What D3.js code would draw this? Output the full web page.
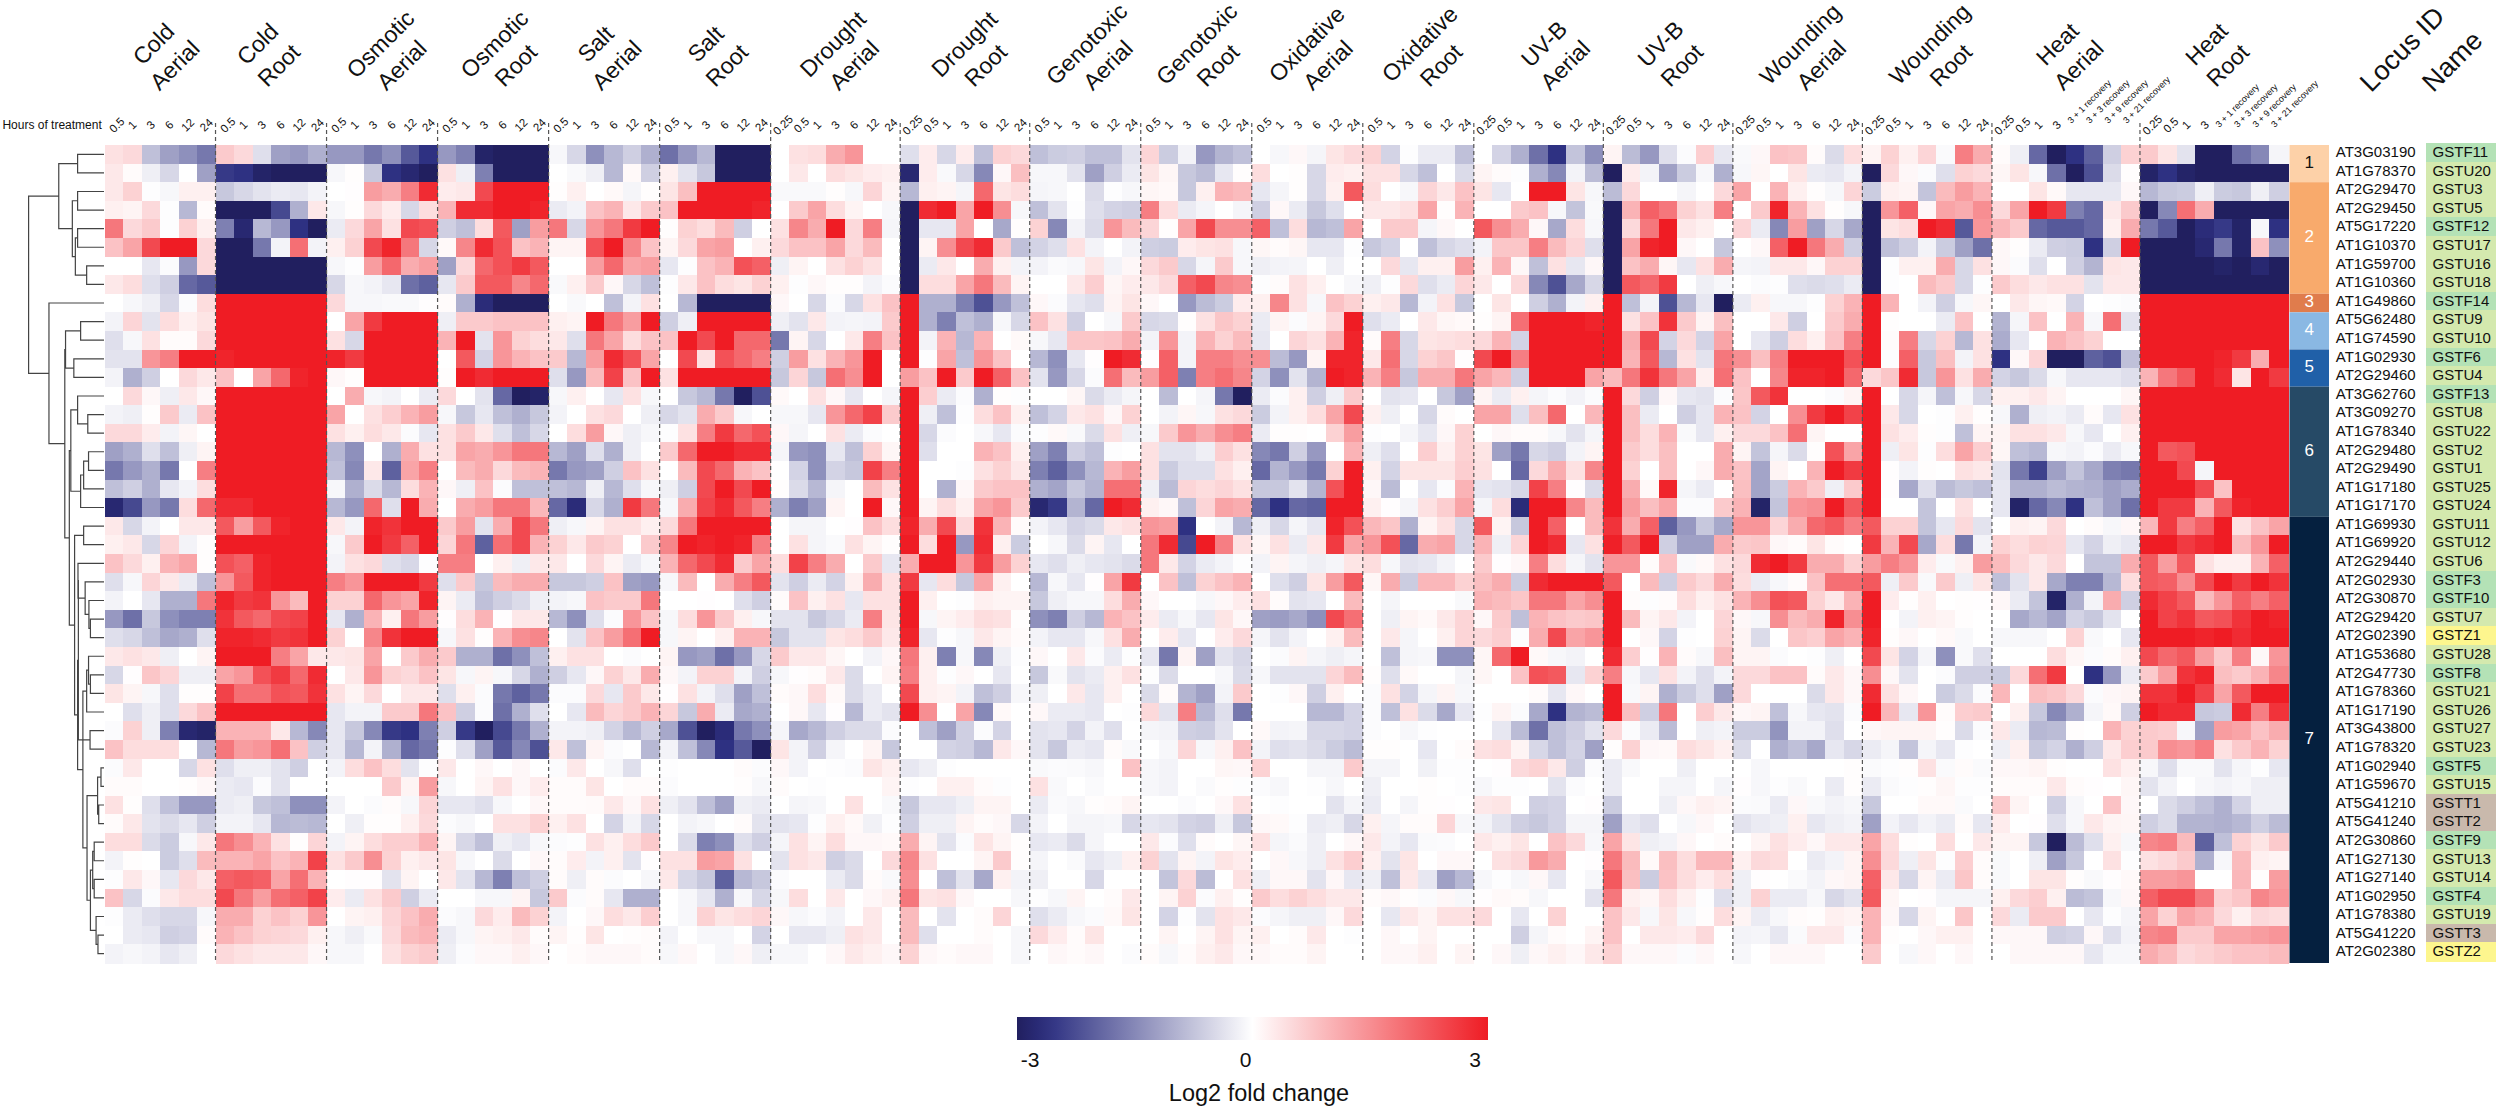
<!DOCTYPE html>
<html>
<head>
<meta charset="utf-8">
<script src="https://cdn.jsdelivr.net/npm/d3@7"></script>
<style>
  body { margin: 0; background: #fff; }
  text { font-family: "Liberation Sans", Arial, sans-serif; fill: #111; }
</style>
</head>
<body>
<svg id="chart" width="2500" height="1111"></svg>
<script>
/*** DATA ***/
const locusIds = ["AT3G03190","AT1G78370","AT2G29470","AT2G29450","AT5G17220","AT1G10370","AT1G59700","AT1G10360","AT1G49860","AT5G62480","AT1G74590","AT1G02930","AT2G29460","AT3G62760","AT3G09270","AT1G78340","AT2G29480","AT2G29490","AT1G17180","AT1G17170","AT1G69930","AT1G69920","AT2G29440","AT2G02930","AT2G30870","AT2G29420","AT2G02390","AT1G53680","AT2G47730","AT1G78360","AT1G17190","AT3G43800","AT1G78320","AT1G02940","AT1G59670","AT5G41210","AT5G41240","AT2G30860","AT1G27130","AT1G27140","AT1G02950","AT1G78380","AT5G41220","AT2G02380"];
const geneNames = ["GSTF11","GSTU20","GSTU3","GSTU5","GSTF12","GSTU17","GSTU16","GSTU18","GSTF14","GSTU9","GSTU10","GSTF6","GSTU4","GSTF13","GSTU8","GSTU22","GSTU2","GSTU1","GSTU25","GSTU24","GSTU11","GSTU12","GSTU6","GSTF3","GSTF10","GSTU7","GSTZ1","GSTU28","GSTF8","GSTU21","GSTU26","GSTU27","GSTU23","GSTF5","GSTU15","GSTT1","GSTT2","GSTF9","GSTU13","GSTU14","GSTF4","GSTU19","GSTT3","GSTZ2"];
const clusterSizes = [2, 6, 1, 2, 2, 7, 24];

const hours6 = ["0.5","1","3","6","12","24"];
const hours7 = ["0.25","0.5","1","3","6","12","24"];
const hoursHeat = ["0.25","0.5","1","3","3 + 1 recovery","3 + 3 recovery","3 + 9 recovery","3 + 21 recovery"];

const coldAerial = [
[.4,.5,-.8,-1.2,-1.4,-1.7],[.3,.05,-.2,-.5,0,-1.2],[.3,.6,-.03,-.1,.2,.2],[.2,.15,.5,-.02,-.9,.05],[1.8,.5,.7,-.02,.6,.2],[.8,1.2,2.4,3,3,.5],[0,0,-.3,-.05,-1.3,.5],[.3,.45,-.4,-.6,-1.9,-2.1],
[0,-.1,-.2,-.5,-.05,.45],[-.15,.55,-.35,.45,.2,.35],[-.4,-.1,.4,.05,.05,.5],[-.35,-.35,1.4,1.7,3,3],[-.15,-1,-.6,0,.5,.3],[0,.5,.1,-.2,.3,.1],[-.15,-.2,.03,.7,-.25,.8],[.5,.5,.25,-.15,.12,0],
[-1.2,-1,-.4,-.8,-.2,.15],[-1.7,-1.3,-1,-1.7,0,1.7],[-.8,-.6,-1,-.3,-.15,.45],[-2.8,-2.3,-1.3,-1.7,.45,2],[.3,-.5,-.15,0,.3,.3],[.2,.3,-.5,.55,-.15,.03],[.8,.5,.2,1,1.2,.03],[-.4,-.1,.55,.3,-.25,-.8],
[-.15,0,-.3,-1,-1,1.8],[-1.3,-1.8,-.7,-1.4,-1.6,-1.6],[-.4,-.5,-.8,-1.1,-1,-.4],[.3,.4,.3,-.2,0,.15],[-.5,.02,.75,.55,-.2,-.2],[.35,.15,-.1,-.4,.03,.03],[0,-.4,-.2,-.4,.5,.8],[-.05,.6,-.2,-1.6,-2.8,-2.9],
[.8,.45,.45,.45,0,-.9],[-.05,.3,0,0,-.5,.4],[.05,.05,0,0,.03,.1],[.4,.03,-.4,-.8,-1.3,-1.3],[.05,.3,-.35,-.45,-.3,-.6],[.45,.45,-.45,-.65,-.1,.3],[-.15,.03,0,-.65,-.4,.9],[-.03,.3,.1,-.3,.5,.3],
[.8,-.5,-.05,.3,.45,.45],[-.03,-.25,-.4,-.5,-.5,-.1],[0,-.25,-.3,-.6,-.55,.05],[-.15,-.1,-.15,-.3,-.2,0]];

const coldRoot = [
[.7,.5,-.4,-1.2,-1.3,-1],[-2.5,-2.6,-2.9,-3,-3,-3],[-.7,-.5,-.35,-.25,-.3,-.15],[-3,-3,-3,-2.3,-1,.3],[-1.6,-2.8,-.9,-1.3,-2.6,-3],[-3,-3,-1.7,-.15,1.9,-.15],[-3,-3,-3,-3,-3,-3],[-3,-3,-3,-3,-3,-3],
[3,3,3,3,3,3],[3,3,3,3,3,3],[3,3,3,3,3,3],[2.9,3,3,3,3,3],[.8,0,1.2,2,2.9,3],[3,3,3,3,3,3],[3,3,3,3,3,3],[3,3,3,3,3,3],
[3,3,3,3,3,3],[3,3,3,3,3,3],[3,3,3,3,3,3],[2.8,2.8,3,3,3,3],[2.2,1.3,2.2,2.9,3,3],[3,3,3,3,3,3],[2.3,2.1,2.9,3,3,3],[1.4,2.2,2.9,3,3,3],
[2.9,2.6,2.7,1.4,.9,3],[2.7,2.2,2,2.4,2.5,3],[2.9,2.9,2.8,2.6,2.7,3],[3,3,3,1.7,1.2,.3],[1.2,1.4,2.3,2.6,2,2.8],[2.5,1.9,1.9,2.3,2.2,2.7],[3,3,3,3,3,3],[1,1,1,.3,-.9,-1.5],
[1.8,1.3,1.4,1.9,.8,-.6],[-.4,-.2,-.2,-.35,-.6,0],[-.25,-.3,-.05,-.35,0,0],[-.25,-.2,-.7,-.8,-1.4,-1.4],[-.15,-.15,-.3,-.9,-.85,-.9],[1.8,1.5,1,.4,.03,.55],[1,1,1.2,.8,1,2.5],[2.1,2.2,2.1,1.2,1.9,1],
[2.4,1.8,1.3,1.9,2.1,2.5],[1.1,1.1,.6,.8,.6,1.4],[1,.8,.6,.55,.5,.2],[.5,.4,.3,.3,.3,.1]];

const osmoticAerial = [
[-1.3,-1.3,-1.7,-1.4,-2.1,-2.6],[-.1,.03,-.7,-2.6,-2.8,-3],[0,.02,1.3,1.1,1.7,2.8],[-.1,.03,.5,.25,-.5,.45],[-.25,.5,1.2,.4,2.4,2.3],[.2,.6,2.4,2.9,1.8,-.5],[-.1,-.02,1.3,2,1.1,1.3],[-.5,-.1,-.15,-.3,-1.8,-2],
[.5,-.1,-.1,-.08,-.08,.02],[0,1.2,2.6,3,3,3],[.4,-.5,3,3,3,3],[2.9,2.6,3,3,3,3],[.1,.03,3,3,3,3],[0,1.1,-.1,-.15,0,-.25],[1.2,0,.4,.65,1,1.3],[.4,.2,.45,.3,-.05,-.3],
[-.9,-1.4,0,-1,1.1,.4],[-.8,-1.5,.3,-2,1.2,1.7],[-.1,-1,-.45,-.9,.45,1],[-.9,-1.3,2,-.4,3,1.1],[.3,-.15,2.9,2.7,3,3],[-.1,.7,3,2.6,2.1,3],[-.15,.4,.5,-.4,-.5,-.02],[1.7,1.4,3,3,3,2.6],
[.6,.6,2,1.4,1.2,2.9],[-.3,-1,1,.2,1.8,1.3],[.6,0,1.6,2.7,3,3],[.3,.35,1.2,0,.7,1.1],[0,.3,1.4,.6,.5,.8],[.4,.15,.5,0,.3,.3],[-.3,-.15,-.15,.7,.7,1.8],[-.3,-.7,-1.5,-2.5,-2.6,-1.6],
[-.3,-.9,-.15,-1,-1.9,-1.7],[-.15,.45,.8,.45,-.35,-.02],[0,0,0,.7,.15,1.3],[-.15,0,-.05,.05,-.1,.55],[0,-.2,.03,.03,.2,.5],[-.15,.15,.45,.65,.65,1],[.4,.7,1.5,.6,.2,.3],[0,.02,.02,-.35,.15,0],
[.25,-.25,.4,.7,-.6,-.25],[0,.15,.2,.55,.8,1.1],[-.1,-.2,-.08,.5,.9,1],[-.1,-.1,0,.4,.6,.7]];

const osmoticRoot = [
[-1.3,-1.6,-2.9,-3,-3,-3],[.4,-.2,-1.6,-3,-3,-3],[.25,.3,2.4,3,3,3],[1,2.8,2.8,3,3,2.9],[-.6,-.8,.45,2.2,-1.2,1.3],[.08,1.6,2.8,2.3,.8,1],[-1.2,.5,2,2.3,2.6,2.2],[-.3,.7,2.2,2.2,1.6,2],
[.05,-1,-2.7,-3,-3,-3],[-.2,.7,.7,.8,.8,.8],[1,3,-.35,1.4,.6,.45],[0,2.2,-.55,1.4,1,.8],[.03,3,2.8,3,3,3],[.5,0,-.35,-1.9,-3,-2.9],[-.1,-.7,-.3,-.8,-1,-.7],[.4,.7,.3,-.4,-.8,-.5],
[.4,1.2,1.1,1.4,1.8,1.8],[0,.9,1.1,.5,.9,1],[.1,-.2,.8,-.05,-.8,-.8],[0,1.1,1.3,1.8,1.8,.95],[.7,1.3,-.35,1.1,2.4,1.8],[.55,1.8,-2,1.9,2.4,1],[1.7,1.7,0,.2,-.2,.3],[-.4,.7,-.7,.9,1.1,1.1],
[.15,-.25,-.8,-.6,-.45,-.2],[.02,.45,1,.02,.3,.3],[-.1,.4,.03,1,1.5,1.6],[.7,-1,-1,-1.8,-1.4,-.8],[.35,-.1,.15,-.1,-.5,-1],[-.4,.2,-.05,-1.7,-2,-1.7],[.8,-.6,-.05,-1.8,-1,-.4],[-.6,-2.5,-3,-2.3,-1.7,-1],
[-.02,-.4,-1.2,-2.1,-1.5,-2.2],[.3,0,.1,0,.1,0],[-.1,0,.15,.4,.1,.25],[-.3,-.3,-.4,-.1,0,.1],[-.05,-.1,0,.4,.4,.6],[.15,-.5,-.8,-.2,-.3,-.1],[.35,-.1,0,-.45,0,.1],[.3,-.35,-.9,-1.6,-.8,-.6],
[0,0,-.1,-.1,.15,-.7],[-.05,-.1,.5,.25,.9,.6],[-.25,-.1,.15,.2,.3,.05],[-.2,-.05,.1,.1,.2,.1]];

const saltAerial = [
[-.1,-.5,-1.4,-.9,-.6,-1],[0,-.08,-.2,-.9,.08,-.6],[.03,.2,0,.08,-.12,.03],[-.25,-.15,.8,1,.3,.7],[1.8,-.5,1.4,1.8,2.6,3],[.15,.15,2.3,3,1.6,.8],[0,0,1.3,2,1.2,1.3],[-.08,.2,.7,.1,-.5,-.8],
[0,-.08,0,-.8,-.15,.4],[.2,.15,3,1.8,1.3,3],[.3,-.4,1.8,1.2,.45,.8],[.7,-.9,1.3,2.8,2.3,1.2],[-.4,-1.3,.9,2.5,.8,3],[-.1,.2,0,-.3,.4,-.1],[-.15,0,.4,.5,0,-.2],[0,.45,1.3,.1,-.2,-.1],
[-.9,-1.2,-.4,-1,-.2,0],[-1.7,-1.3,-1.2,-.6,.8,.4],[-.8,-.9,-.2,-.9,-.4,-.1],[-1.9,-2.7,-.5,-1,2.6,1.8],[-.2,-.1,.15,.4,.4,.2],[.6,.3,.7,.6,0,.7],[.3,0,.5,.15,-.25,-.1],[-.7,-.7,-.6,.8,-1.2,-1.3],
[-.15,-.1,.8,.7,.7,1.8],[-.9,-1.4,-.4,-.05,1.4,.8],[0,-.35,.8,1.3,1.9,3],[.2,.4,.4,0,-.05,0],[-.6,-.3,.1,.6,.3,1.1],[-.05,-.05,.5,-.3,.7,.3],[0,-.3,.9,.55,.7,1],[-.15,-.15,-.2,-.55,-.9,-.6],
[.3,-.8,.15,-.05,0,-.9],[-.05,.3,0,-.1,-.4,0],[.05,.05,.35,0,.05,.05],[.05,.05,.07,.3,.1,.4],[.2,.4,0,-.55,-.15,-.5],[-.05,-.03,.4,.2,.45,.7],[.05,.25,-.15,.2,-.35,.02],[.05,-.2,.05,-.05,0,-.1],
[.7,-.05,.05,-.3,-1,-1],[-.15,0,.1,.45,.3,.65],[.15,.03,.35,0,.03,.05],[0,.05,.1,.1,.1,.05]];

const saltRoot = [
[-1.8,-1.3,-.9,-3,-3,-3],[.2,-.35,-.7,-3,-3,-3],[.35,.85,3,3,3,3],[.8,3,3,3,3,2.9],[.03,.6,.45,.9,-.6,0],[.15,.5,1.2,1.3,0,.2],[-.3,-.03,.8,1,2.3,2.1],[-.02,.3,.8,.45,.35,.6],
[0,-.9,-3,-3,-3,-3],[-.6,-.2,3,3,3,3],[.8,3,2.4,3,2,2],[0,2.4,.4,2.3,2,1.7],[.4,3,3,3,3,3],[0,-.7,-.9,-1.7,-3,-2.2],[-.5,-.35,1.1,.7,-.1,0],[-.02,.4,1.7,2.6,2,2.3],
[.7,2,3,3,2.8,2.8],[0,.9,2.4,2,1,.8],[-.2,-.6,2.4,3,2.4,3],[-.1,1.1,2.5,2.8,2.2,1.7],[.5,1.8,3,3,3,3],[1.6,3,2.9,3,2.9,1.7],[1,2,2.4,2.8,.7,1.2],[-.1,.9,0,1.1,1.7,2.2],
[0,0,.02,0,-.4,-.6],[-.1,.45,1.4,.7,.2,-.1],[-.1,.15,0,.2,1,1],[.15,-1.3,-1.2,-1.8,-1.3,-.5],[.1,-.15,.6,.6,-.15,-.6],[.02,.4,-.15,-.4,-1.2,-.8],[.55,-.7,1.1,-.25,-1.1,-1],[-1.1,-2.2,-3,-2.7,-1.7,-1.4],
[-.15,-.8,-1.5,-2.6,-2.1,-3],[-.03,0,0,0,.05,-.05],[-.05,0,0,0,.03,-.1],[-.2,-.35,-.8,-1.2,-.2,-.25],[0,-.15,-.1,0,.05,-.35],[0,-.45,-1.6,-1.4,-.4,-.6],[.4,.4,1.3,1.2,.4,0],[.3,-.5,-.7,-2,-.9,-.7],
[0,-.1,-.3,-1,-.1,-.5],[0,-.1,.6,.35,.45,.55],[-.15,0,-.1,-.1,0,-.55],[-.1,.1,0,-.1,.1,-.2]];

const droughtAerial = [
[0,.4,.45,1.1,1.4,0,0],[0,.3,0,.45,.35,.25,.2],[-.08,-.08,-.08,.03,-.1,.55,.15],[0,.7,1.2,.45,.15,0,-.1],[.4,1.6,1.1,3,.5,1.7,-.12],[.5,.8,.8,1.2,.5,.9,0],[-.2,.15,0,.4,.6,.4,0],[.2,-.02,.1,.03,.03,-.15,-.05],
[.1,0,-.5,-.05,-.5,.4,.8],[-.2,-.35,.3,-.15,-.12,-.15,.7],[-1.7,.15,-.5,0,.3,1.7,.8],[-.6,1.3,.4,1,1.4,3,0],[-.7,.55,-.7,1.9,1.5,3,0],[.08,0,.4,.1,-.3,0,-.12],[-.1,-.1,-.3,1.4,2,2.5,.7],[.1,-.12,0,.4,-.25,-.05,0],
[-.12,-1.3,-1.4,-.3,-.8,.6,.12],[0,-.55,-1.4,-.55,-.7,2.5,1.7],[.03,-.45,-.9,-.12,0,.9,.4],[-1,-1.6,-1.2,.15,0,3,.1],[0,-.12,-.12,0,.02,.8,.45],[0,.4,-.12,-.06,.4,.15,.03],[.45,2.5,1.7,1.1,0,.7,-.3],[-.35,-.6,-.25,-.55,.2,1.1,.4],
[.05,.8,.2,.4,-.3,.4,.4],[-.35,-.35,-.7,-.5,-.25,1.7,.35],[-.7,-.35,-.35,.35,.45,.7,.3],[.7,.3,.3,.12,0,-.15,.1],[-.1,.02,.05,.3,-.45,0,.15],[.05,.1,.45,.08,-.45,-.25,0],[0,.1,-.3,.02,-.9,-.25,-.35],[-.12,-1.1,-.9,-.6,-.45,-.45,-.05],
[.35,-.15,-.6,-.12,0,.15,-.7],[.1,-.15,0,-.03,-.05,.35,.2],[.05,0,-.03,0,0,0,.15],[0,-.12,-.1,0,.4,0,-.08],[-.35,-.3,-.03,.2,.08,-.18,-.03],[-.12,.4,.15,.45,.1,.1,.08],[-.35,.4,.3,-.6,-.45,0,.5],[-.05,0,0,-.25,-.45,.05,-.08],
[-.1,.45,0,.3,0,.1,.2],[.1,-.1,-.05,-.15,0,.3,0],[0,-.3,-.3,-.2,.4,.3,0],[-.1,-.1,0,.1,.3,.2,.1]];

const droughtRoot = [
[-.4,.25,-.5,.25,-.8,.6,.5],[-2.8,.25,-.08,-.5,-1.5,.1,.85],[-.9,.2,.15,-.12,2,.35,.45],[-3,2.8,3,1.2,3,1.5,-.1],[-3,-.3,-.3,1.2,0,-1.1,.03],[-3,.15,1.5,2.4,2.8,.7,-.8],[-3,-.25,.3,0,1.1,.2,-.15],[-3,.45,.45,1.2,1.8,.9,.15],
[3,-1,-1,-1.6,-2.2,-1.3,-.8],[3,-1,-1.6,-.8,-1,-.1,-.5],[3,-.15,1,-.9,1,0,.08],[3,-.03,1.2,-.8,1.4,.8,0],[1.3,.8,3,.7,3,2.1,.8],[3,.65,-.25,-.05,-1,.03,-.03],[3,-.2,-.8,-.02,.45,.8,.2],[3,-.5,-.05,0,-.1,-.3,-.05],
[3,-.4,0,0,1,.8,.2],[3,0,0,-.02,.4,.6,.3],[3,0,-1,.1,.7,.8,.8],[3,.15,.45,.2,1.2,1.4,.7],[2.9,1.1,2.4,.5,2.7,1,.05],[3,.45,3,-1.3,2.8,.2,-.65],[1.1,3,3,1.4,2.6,1.3,.6],[2.6,-.3,.45,-.7,1.2,.2,0],
[3,.2,0,-.03,.2,.15,.15],[3,-.1,.15,.25,.45,.4,.03],[2.9,-.3,-.03,-.1,.3,.15,.05],[1.8,.2,-1.6,-.1,-1.5,-.2,-.03],[1.7,.2,-.02,.1,0,-.3,0],[2.4,.2,.15,-.15,-.8,-.6,-.1],[3,1.5,0,1.2,-1.5,.08,0],[0,-.8,-1.2,-.6,-.05,-.55,0],
[0,0,-.55,-.6,-.9,.3,.1],[-.3,-.2,-.03,0,0,0,0],[-.02,0,.2,.2,.05,-.03,0],[-.7,-.3,-.3,-.2,.15,.15,0],[-.6,-.2,-.2,.15,.05,.1,-.5],[1.1,.15,-.35,-.05,.35,.15,.03],[1.6,.4,0,0,.15,.7,.03],[1.5,0,-.8,-.35,-1.1,.2,-.15],
[1.8,.35,.4,.1,0,0,-.1],[.9,0,-.35,0,.05,.55,0],[.9,-.4,0,0,.05,0,-.1],[.6,.1,.05,.1,.1,0,-.1]];

const genotoxicAerial = [
[-.8,-.65,-.6,-.8,-.8,-.35],[-.1,-.1,-.35,-1.2,-.6,-.25],[-.12,-.1,0,-.45,-.02,-.1],[-.8,-.35,-.02,-.4,-.55,-.6],[.6,-1.5,-.15,-.45,1.4,.9],[-.55,-.4,.4,-.15,0,-.15],[-.15,-.06,-.1,.35,-.15,.1],[0,0,.3,.65,.12,.25],
[.1,-.05,-.3,-.4,.15,.35],[.8,.4,-.6,0,-.1,.7],[-.1,-.3,.75,.75,.8,1.1],[-.9,-1.4,-.3,.02,3,2.8],[-.35,-1.3,-.5,-.05,1.9,.9],[0,0,.12,-.45,-.25,-.12],[-.8,-.55,.3,.4,.1,.6],[-.03,.08,-.08,-.45,.4,-.2],
[-1.2,-1.6,-.6,-.8,-.03,0],[-1.6,-2,-1.4,-.9,1,1.3],[-1,-1.15,-.7,-.95,1.9,1.9],[-2.8,-2.5,-.95,-1.9,3,2.8],[-.15,-.3,-.55,-.45,.3,.4],[0,-.1,-.45,.15,-.3,0],[-.3,-.4,-.2,-.3,-.35,-.45],[-.9,-.1,-.3,.02,1.2,2.6],
[-.7,-.2,-.1,-.1,.45,1.1],[-1.4,-1.6,-.6,-.9,1,.8],[-.15,-.3,-.3,-.1,.4,1.1],[.1,0,.3,-.05,-.25,-.03],[-.7,-.08,-.35,-.25,.2,.4],[-.2,0,.3,-.3,.2,0],[.1,-.25,-.25,-.3,0,-.02],[-.35,-.3,-.55,-.15,-.4,0],
[-.35,-.7,-.25,-.3,.05,-.08],[-.08,-.05,-.06,-.1,0,.8],[.4,-.08,0,-.06,0,0],[-.25,-.06,-.1,.03,.05,.15],[-.15,0,-.12,-.12,-.1,-.5],[-.3,-.25,-.45,-.12,0,0],[-.12,0,-.06,-.3,-.2,.2],[-.2,0,0,-.5,0,0],
[-.02,-.1,.15,0,.05,.3],[-.4,-.25,-.1,-.05,.08,.35],[.5,.25,.05,.35,0,0],[0,.1,.05,.1,0,-.05]];

const genotoxicRoot = [
[.55,-.65,-.15,-1.3,-.95,-.8],[.35,.12,-.7,-.85,-.3,.03],[.12,.08,-.7,.2,1,.9],[1.7,.45,-.25,-.12,0,-.12],[.55,.03,1.2,2.4,1.5,1.5],[-.6,-.65,.25,.35,.4,-.1],[.5,.7,-.5,-.12,.7,-.1],[.3,.5,2.1,2.4,1.6,1.5],
[.1,0,-1.3,-.85,-.65,.25],[-.5,-.45,.03,.4,.75,.6],[-.15,1.4,-.15,1,.6,.9],[.02,2.1,-.15,1.7,1.7,1.5],[1.3,2.1,-1.6,1.7,1.9,1.6],[0,-.85,0,-.12,-1.7,-3],[0,-.15,.12,-.1,.4,.5],[-.1,.7,1.4,1.1,1.5,1.7],
[.4,-.35,-.35,-.2,.65,.4],[.4,-.65,-.4,-.4,.4,.2],[-.2,-.85,.55,.45,.55,.4],[.2,.1,-.8,.55,1.2,1.1],[1.4,1.3,-2.6,0,-.15,-.9],[1.8,2.8,-2.3,3,1.7,.4],[1.8,.3,-.55,-.25,-.15,-.03],[0,.8,-.8,.6,.8,1],
[.1,0,0,-.1,.1,.25],[.25,-.25,-.1,-.3,.35,.1],[0,.25,-.3,0,.25,.5],[-.3,-1.7,.15,-1.2,-.35,-.5],[-.03,-.45,0,0,-.1,-.45],[-.45,.05,-.95,-1.2,-.15,.7],[.5,-.35,1.7,-.9,-.4,-1.7],[-.12,-.15,-.6,-.65,-.35,0],
[0,-.1,.55,-.1,.2,.8],[-.1,-.15,0,0,.12,.1],[-.1,-.15,0,-.06,.03,-.02],[0,0,-.05,0,.1,.4],[-.3,-.35,-.55,-.6,-.2,-.7],[.3,-.05,-.4,.05,0,.12],[.6,-.35,.15,-.15,.35,.25],[0,-.75,.5,-.85,0,.4],
[0,.15,.6,-.05,.2,.03],[0,-.55,-.02,-.35,.4,.3],[0,.15,0,.15,.4,.15],[.05,-.1,.05,.2,.3,.1]];

const oxidativeAerial = [
[0,-.1,.1,-.12,.35,.5],[.45,0,.03,-.5,.25,.2],[-.3,-.12,.03,-.5,.2,2.2],[-.6,.1,-.25,-.7,-.4,0],[2.1,-.8,.45,-.9,-.8,1.2],[.12,.05,.12,-.3,-.3,-.02],[-.2,-.15,-.12,0,-.2,0],[-.03,.05,.4,.2,0,-.1],
[.2,1.6,.4,-.1,.8,.6],[-.25,.15,-.05,.15,.5,3],[-.3,0,.55,.4,1,2.9],[1.5,-.85,-1.3,.15,2.9,2.9],[-.55,-1.4,-.35,-.95,3,2.9],[-.25,-.05,.2,-.6,-.2,.7],[-.65,-.15,.2,.45,1.2,2.4],[-.25,.03,.03,0,.6,1.3],
[-1.5,-1.7,-.6,-1.3,0,1],[-1.9,-.95,-1.3,-1.7,.6,3],[-.7,-.7,-.35,-.95,2.3,3],[-1.9,-2.6,-1.9,-2,3,3],[-.2,-.5,-.12,-.3,2.9,2.3],[.12,.4,-.25,.3,2.6,1.2],[-.15,.15,-.12,-.2,-.12,.35],[0,-.4,-.6,.35,1.3,2.2],
[.4,.05,-.35,-.3,0,.9],[-1.2,-1.25,-1.1,-1.4,2.4,1.9],[-.12,-.35,-.15,0,.2,.9],[0,-.05,.15,-.12,-.2,-.12],[-.1,-.35,-.35,-.35,.55,.9],[0,-.03,.1,-.6,.2,0],[0,0,0,-.9,-.9,-.55],[.08,-.15,-.12,-.5,-.5,-.55],
[-.15,-.4,-.35,-.45,-.65,-.85],[.6,0,0,-.12,-.12,.7],[-.05,-.1,0,-.03,-.1,0],[0,-.03,0,0,-.35,-.12],[.1,.08,-.03,-.25,-.2,-.5],[.4,-.12,-.06,-.2,0,.1],[0,.1,-.1,-.2,.4,.65],[-.2,.1,.1,-.35,.1,-.3],
[.7,.45,.6,.45,.3,.3],[-.05,-.12,-.2,-.2,.1,.5],[.2,0,.05,.3,0,-.03],[.1,.05,.05,.15,0,0]];

const oxidativeRoot = [
[.6,-.55,-.03,-.25,-.25,-.8],[.4,.4,-.5,-.8,0,-.45],[.45,0,-.1,.55,.3,.8],[.3,.3,.4,1.2,.03,1],[0,.7,.7,-.12,.1,0],[-.7,-.55,0,-.8,-.5,-.4],[0,.5,-.3,.2,.2,1.3],[-.2,-.03,.5,-.4,-.25,.55],
[.2,.3,-.9,-.15,.4,-.7],[-.4,-.25,0,.3,.12,.08],[.05,1.7,-.5,.35,.4,.45],[.3,1.9,-.5,.6,.75,.02],[1,1.7,-.7,1.1,1.1,1.8],[0,-.35,-.3,0,-.7,-1.2],[.2,-.2,0,-.5,.05,0],[-.02,0,-.12,-.3,.1,.6],
[-.2,-.4,0,.65,.2,.6],[.2,-.55,.35,.35,.35,.65],[.1,-.85,0,-.3,-.05,1],[.2,.02,-.12,.4,.65,1.2],[.95,.75,-1,.15,.4,-.5],[1.4,2.3,-1.9,1.1,1.2,-.5],[.45,-.1,-.35,-.3,-.15,0],[.12,1.1,-.65,.95,.95,.6],
[0,-.12,0,0,0,-.08],[0,-.2,.15,.08,.3,.55],[0,.3,-.12,0,.2,.55],[0,-.8,-.12,-.1,-1.4,-1.4],[.03,-.4,.08,0,0,-.12],[-.05,.4,-.55,-.12,.15,-.1],[-.05,-.8,.4,-.45,-1.1,-.3],[-.05,0,-.1,-.03,0,0],
[.03,.03,0,-.3,0,.05],[-.12,-.12,0,-.18,-.03,-.03],[-.2,0,0,.03,0,-.03],[-.25,0,-.12,.03,.02,0],[.2,-.12,.05,.05,.55,-.1],[.3,-.15,-.3,-.06,-.05,0],[.2,-.35,.35,0,.1,.1],[-.2,-.8,.3,-.3,-1.2,-.9],
[.05,.1,.03,-.05,.1,-.1],[0,-.3,.3,.15,.4,.4],[0,.1,0,.15,0,0],[0,.1,.1,.2,0,.15]];

const uvbAerial = [
[0,-.55,-1,-1.8,-2.6,-.75,-1.4],[.15,.05,-.03,-1,-1.5,-.15,-.85],[.35,-.3,0,3,3,.35,-.1],[0,0,.7,.8,-.1,-.75,-.08],[2.2,1.5,1.1,.1,-1.1,.45,-.1],[-.15,.75,.75,1.7,.9,.55,-.4],[.2,1,.1,-.8,.4,-.3,.1],[.3,0,.5,-1.5,-2.2,-1.1,-.5],
[0,.35,0,-.6,-1,-.15,.2],[.03,.15,1.9,3,3,3,2.9],[.5,1,-.55,3,3,3,3],[2.4,3,1.7,3,3,3,3],[1.2,.95,-.6,3,3,3,1.2],[.15,-.25,.2,-.12,-.05,-.15,-.05],[1.2,1.2,-.4,.85,2,0,.95],[0,.1,.05,.05,-.1,-.35,-.12],
[.35,-1.2,-1.7,-.5,-.6,-.15,.15],[.4,0,-1.9,.5,1.1,.4,1.6],[-.3,-.35,-.5,2.5,1.7,.02,-.45],[-.12,.45,-2.7,3,3,1.6,.9],[2.2,.15,-.7,3,2.1,0,.9],[1,-.2,.55,3,2.8,-.3,.4],[.7,.02,.1,1.7,.45,-.12,-.35],[.85,1.1,-.65,2.8,3,3,3],
[1,.9,.75,1.8,1.8,1.2,1.5],[.1,.7,-.8,1,.8,.7,.75],[.5,.65,-.03,1.1,2.4,1.2,1.4],[.12,2,3,.08,-.1,-.15,0],[.12,0,.8,2.3,2.2,-.3,.6],[0,0,0,.05,-.3,.1,0],[-.03,.15,-.05,-1.1,-2.6,-.95,-.85],[0,-.3,-.85,-1.8,-.8,-.6,-.35],
[.4,.45,.15,-.5,-.8,-.55,-1.2],[0,.02,.5,.6,.3,-.6,-.05],[-.1,-.03,-.03,0,-.35,-.05,0],[.3,.35,0,-.6,-.55,0,.02],[-.15,-.35,-.6,-.7,-.55,-.12,-.12],[.3,.2,.35,0,.8,.5,-.1],[0,.4,.5,1.35,1.1,0,.02],[-.1,-.03,-.1,.1,-.3,0,-.1],
[.02,.08,.05,-.1,0,0,-.35],[.5,0,-.3,0,.6,0,0],[0,0,-.6,-.12,.05,0,.15],[0,.1,-.2,.1,.2,.1,.3]];

const uvbRoot = [
[.15,-.85,-1.3,-.4,-.05,.65,-.3],[-3,.25,-.15,-1.2,-.65,-.1,-1],[-.85,.5,0,0,-.12,0,.5],[-3,1,2.1,1.8,.6,.4,1.7],[-3,.5,1.8,3,.3,.2,0],[-3,1.2,2.9,3,.1,0,-.7],[-3,.8,1.1,.12,-.3,.4,1.1],[-3,2.2,2,2.6,0,-.2,-.1],
[3,-.8,-.15,-2.2,-.9,-.3,-3],[3,.4,.8,2.7,.7,.15,.85],[3,1.1,2.4,-.55,.5,-.55,1.2],[3,1,2.2,-.9,.4,-.35,1.8],[.9,1.8,2.7,1.8,1.2,.2,1.9],[3,.5,-.6,.1,-.3,-.35,-.05],[3,.85,-.25,0,-.6,-.3,1],[3,.85,.45,1,-.08,-.3,.2],
[3,.7,.45,.85,0,0,1.1],[3,.6,0,.85,0,.1,1.1],[3,1.1,.08,2.9,-.12,-.25,0],[3,1.3,.85,1.2,-.05,-.05,.7],[2.7,1.1,2.1,-2,-1.3,-.7,-1.1],[2.95,2.2,3,-.6,-1.2,-1.2,1.1],[1.4,1.4,.05,.8,-.08,.08,.4],[2.2,0,.9,-.6,.7,.5,1.1],
[3,.05,-.03,.05,.45,.2,.4],[3,.9,.15,.3,-.15,0,.55],[3,0,.1,-.55,-.02,0,.6],[2.8,.65,.02,1,.05,-.1,.85],[1.7,-.1,-.3,.4,-.15,-.4,-.15],[3,-.08,.15,-1,-.65,-.4,-1.2],[3,.85,-.6,1.8,0,.65,.3],[.5,-.05,-.25,-.85,0,-.2,-.15],
[.03,.6,.1,.08,.45,.35,.2],[-.25,-.08,0,0,-.2,0,0],[-.25,0,0,-.12,-.12,0,-.12],[-.65,0,0,-.2,.1,.2,.15],[-1.2,-.3,-.4,0,-.1,.1,0],[1.2,.35,-.2,-.15,.1,0,.05],[1.8,.9,.08,.85,.45,.95,.95],[2.2,.85,-.65,.8,.45,.25,.45],
[1.8,.2,.12,.45,.2,-.03,-.4],[.8,.3,-.1,.35,-.1,.03,.45],[.8,0,.3,.3,.25,.5,0],[.6,.1,.1,.1,-.05,.1,0]];

const woundingAerial = [
[-.08,.1,.8,.75,.05,-.45,.45],[-.1,.12,0,.35,-.25,-.3,-.15],[1.2,0,1,.2,.03,-.1,.55],[0,.7,2.9,1,.4,.03,-.1],[.55,-.25,-1.5,1.3,-1.2,-.5,-1.1],[0,.1,2.1,3,1.8,1.1,-.6],[-.12,-.15,.3,.3,.1,.6,.6],[0,-.05,-.02,-.4,-.45,-.4,-.25],
[-.25,.2,-.1,-.1,-.03,.6,1],[0,0,.3,-.6,0,.7,1.1],[0,-.3,-.6,.45,.2,.8,1.7],[1.5,.85,1.7,3,3,3,2.3],[.8,0,1.6,2.9,2.9,3,2],[.75,2.2,2.7,0,0,-.05,.15],[.8,-.55,0,1.5,2.6,3,2.5],[.5,.5,.8,1.9,.15,0,0],
[.15,-.75,-.12,-.45,.03,2.3,1.2],[.8,-1.15,.15,0,1,3,2.6],[.85,-1.15,-.65,1,.7,-.2,.7],[1,-2.9,-.75,1.4,1.5,3,2.2],[1.4,1.4,.55,1.1,2,2.2,1.7],[.7,.75,.1,.05,.35,.05,0],[.5,2.8,3,2.6,1.1,1.1,.6],[.45,-.25,-.1,.05,.8,1.9,1.9],
[1,1.5,2.3,2.2,.6,.3,1],[.1,-.1,1.5,.9,1.1,2.9,1.5],[.15,-.45,0,.75,.65,1.2,1],[.15,.15,-.05,0,-.03,-.2,0],[.5,.5,.8,.8,.05,.3,.1],[.5,0,0,0,-.45,.3,.1],[.1,.15,-.8,-.1,-.3,-.35,-.05],[-.65,-.65,-1.35,-.15,-.15,-.4,0],
[-.45,0,-1,-.8,-1.1,-.3,-.5],[0,-.1,0,0,0,0,.03],[.02,-.1,-.03,-.08,0,-.25,.03],[-.05,-.06,-.25,.1,-.08,-.15,-.1],[-.35,-.25,-.2,.2,-.3,-.2,-.15],[0,.15,.4,.25,.1,.3,.3],[.2,.5,.45,0,-.25,-.15,.15],[-.2,.02,0,-.06,-.15,.1,.15],
[-.2,.6,-.25,-.25,-.1,-.5,-.35],[.15,-.25,-.1,.05,.03,.2,.15],[-.15,-.12,-.3,-.06,.3,.3,-.05],[-.1,0,.1,.1,.1,0,0]];

const woundingRoot = [
[.15,.6,.2,.55,-.06,1.7,1.1],[-3,.5,.1,-.05,-.4,.6,.5],[-.65,.2,.15,-.75,.9,1.3,1],[-3,1.4,2.1,.1,1.2,1.1,1.5],[-3,.35,.45,3,2.8,-2.1,1.4],[-3,-.8,-.6,-.15,-.65,-1.2,-1.8],[-3,-.03,.2,.2,1.1,-.5,.4],[-3,-.03,0,.9,.7,-.5,-.03],
[3,1,0,-.15,-.6,-.1,.12],[3,.03,0,0,-.25,.8,0],[3,.05,1.7,-.5,.6,-.9,.4],[3,-.03,2.1,-.7,.85,-.15,.4],[.5,.75,2.8,-.7,1.4,.4,1.1],[3,0,-.5,-.12,-.8,-.1,-.5],[3,.3,-.5,0,-.02,.2,.03],[3,.4,.25,.03,-.02,-.8,.15],
[3,-.2,.35,-.02,.45,1.2,.65],[3,.02,-.15,.03,0,.4,.3],[3,.02,-1.1,-.4,-.85,-.7,-.8],[3,0,0,-.75,0,.4,0],[2.2,.6,.6,-.75,-.3,.5,-.35],[2.6,1,2.4,-1.1,.45,-1.7,-.15],[1.3,1.7,1.4,.25,-.08,.2,1.3],[2.2,-.2,.7,-.08,.7,-.2,.35],
[3,.25,.03,.2,0,.03,.02],[3,0,-.15,.2,.15,.03,0],[2.9,.03,.1,0,.08,-.08,0],[2.4,.35,-.55,-.12,-1.4,-.08,-.4],[1.5,.1,-.35,0,-.05,-.6,-.6],[2.8,.4,.1,0,-.65,-.45,-.05],[3,.95,-.3,1.4,.05,.65,.7],[.1,.15,.15,.15,.03,-.45,-.05],
[-.25,-.12,-.75,-.12,-.3,-.03,0],[-.06,-.03,.03,.4,-.06,.05,-.06],[-.25,-.06,-.03,.03,.12,-.03,-.03],[-.7,0,0,.08,.08,-.06,0],[-1.2,-.15,-.3,-.15,-.25,.05,-.3],[1.2,.45,.03,0,.45,0,.3],[1.5,.5,-.2,.35,-.03,.65,.05],[2.1,.3,-.5,.15,-.25,.75,.05],
[2.2,.12,0,.02,-.12,-.12,-.12],[1,.1,-.5,.15,0,.75,0],[1,.03,0,.1,.2,.2,0],[.7,0,-.1,.1,0,.1,0]];

const heatAerial = [
[.05,-.2,-1.9,-3,-2.6,-2,-.6,.6],[.12,.35,-.1,-1.8,-3,-2.2,-.45,.03],[0,0,.35,.08,-.3,-.3,-.3,.1],[.5,1.2,3,2.6,-1.6,-1.9,.3,.7],[.95,.7,-1.9,-2.1,-2.1,-1.9,.2,1.1],[.1,.03,-.25,-.6,-.65,-2.6,-.6,3],[.1,-.05,-.4,0,-.6,-.95,.35,.3],[.7,.45,.3,.4,.4,-.35,.3,.3],
[0,.3,.12,.08,-.55,0,-.02,-.05],[-.95,-.12,.8,0,1,-.1,1.9,-.35],[-1.05,-.3,0,1,.8,.6,0,0],[-2.6,.1,.55,-3,-3,-2,-2.2,-.8],[-.55,-.7,-.45,-.1,-.3,-.3,-.3,-.4],[.2,.2,.3,.15,0,0,0,.12],[-.1,-1,-.2,-.15,-.25,.05,-.3,.4],[.15,.4,.4,.3,-.1,-.3,0,.2],
[.12,-.8,-.9,-.1,-.15,-.05,-.25,-.1],[-.35,-1.7,-2.4,-1.2,-.75,-1.1,-1.6,-1.7],[-.3,-1,-1,-.85,-.95,-1,-1.2,-1.05],[-.3,-2.9,-1.9,-1.5,-2.6,-.8,-1.2,-1.8],[0,.2,.15,.5,0,.05,-.1,.1],[.6,.45,.6,.55,-.3,-.55,-.2,-.3],[.9,.5,.3,.5,0,-.75,-.75,1.1],[-.8,-.35,.3,-1.1,-1.6,-1.6,-.9,.45],
[.1,-.25,-.75,-2.9,-1,-.15,1.1,-.6],[0,-1.1,-.9,-1.15,-.55,-.7,-.35,0],[-.1,-.1,-.1,0,.6,-.08,0,-.3],[0,0,0,.45,.12,-.05,.05,.2],[-.65,.5,1.9,2.6,0,-2.6,-1.3,-.25],[.95,0,.85,.75,.5,-.05,.1,.15],[0,.2,-.7,-1.5,-1,-.12,.08,-.6],[.3,-.25,-.9,-.85,.03,0,1,.6],
[-.2,.2,-.7,-.55,-1,-.6,.3,.65],[.1,.1,.15,.03,0,0,.4,.2],[.05,.05,.05,.3,.05,.02,0,.12],[.7,.15,0,-.6,-.1,0,.8,.1],[.25,0,.02,-.4,-.1,.3,.15,.12],[.15,.15,-.7,-3,-.85,-.4,.2,-.1],[-.08,0,-.2,-1.2,-.7,0,.4,-.03],[-.08,0,.35,.35,.03,-.08,.02,.08],
[.2,.5,.65,.2,-.85,-.75,-.1,.1],[.5,-.25,.7,.7,0,-.3,-.02,-.12],[.1,.1,.1,-.6,-.55,.1,-.4,-.15],[0,.1,.1,.1,.1,-.3,-.1,-.1]];

const heatRoot = [
[.7,.35,-.35,-3,-3,-1.8,-1.5,-.12],[-2.9,-2.6,-2.9,-3,-3,-3,-3,-3],[-.9,-.7,-.65,-.2,-.65,-.7,-.2,-.6],[-3,-1.5,1.9,1.1,-3,-3,-3,-3],[-1.7,-2.1,-3,-2.7,-2.5,-2.9,-.1,-2.6],[-3,-3,-3,-2.8,-1.7,-2.9,.8,-1.4],[-3,-3,-3,-3,-2.9,-3,-2.8,-3],[-3,-3,-3,-3,-3,-3,-3,-3],
[3,3,3,3,3,3,3,3],[3,3,3,3,3,3,3,3],[3,3,3,3,3,3,3,3],[3,3,3,3,2.9,2.6,1.1,3],[1,1.8,2.2,3,2.8,.35,3,2.6],[3,3,3,3,3,3,3,3],[3,3,3,3,3,3,3,3],[3,3,3,3,3,3,3,3],
[3,2.2,2.3,3,3,3,3,3],[3,3,2.4,-.12,3,3,3,3],[3,3,3,2.4,.8,3,3,3],[3,2.6,2.6,1,2.2,2.9,3,3],[.95,2.6,1.7,2.1,3,.4,.8,1.2],[3,3,2.6,2.8,3,.9,1.4,3],[2.2,1.3,2.2,.4,.2,.2,1,2.1],[2.2,2.1,1.5,2.4,3,2.6,3,2.7],
[2.8,2.5,2.2,.9,1.4,2.1,1.7,2.1],[3,2.5,2.7,2.2,2.3,2.7,3,2.9],[3,3,3,2.9,3,2.8,3,3],[2.4,2,2.2,1.3,.7,1.7,.1,1.4],[.7,1.3,2.7,2.9,.85,.7,1,1.6],[2.7,2.7,3,2.5,1.2,2.2,3,3],[3,2.8,2.8,-.7,-.65,2.8,1.7,2.7],[.7,.65,-.1,-1.2,1.3,1.2,.8,1.1],
[.7,1.5,1.4,1.7,.4,.7,1,.6],[-.1,-.4,-.08,-.08,-.35,-.12,-.03,-.3],[-.35,-.15,0,-.1,-.15,-.1,-.2,-.2],[0,-.45,-.6,-.8,-1,-.55,-.2,-.2],[-.6,-.45,-.95,-.95,-1,-.9,-.6,-.85],[1.6,1.7,.9,-2,-.8,.6,.35,.7],[.4,.5,.7,-1,-.1,.9,.2,.15],[1.3,1.3,1.4,0,0,.95,.03,1.3],
[2.1,2.4,2.4,1.8,.6,.75,1.6,1.4],[1.2,.6,1.2,1,.5,.2,.5,.45],[1.6,1.7,.7,.7,1.2,1.2,1.3,1.4],[1.1,.9,.5,.6,.7,.8,.8,.9]];

// the conditions, in drawing order
const conditions = [
  {title: ["Cold", "Aerial"], hours: hours6, values: coldAerial, shift: 4},
  {title: ["Cold", "Root"], hours: hours6, values: coldRoot, shift: -3},
  {title: ["Osmotic", "Aerial"], hours: hours6, values: osmoticAerial, shift: 9},
  {title: ["Osmotic", "Root"], hours: hours6, values: osmoticRoot, shift: 12},
  {title: ["Salt", "Aerial"], hours: hours6, values: saltAerial, shift: 2},
  {title: ["Salt", "Root"], hours: hours6, values: saltRoot, shift: 1},
  {title: ["Drought", "Aerial"], hours: hours7, values: droughtAerial, shift: 8},
  {title: ["Drought", "Root"], hours: hours7, values: droughtRoot, shift: 10},
  {title: ["Genotoxic", "Aerial"], hours: hours6, values: genotoxicAerial, shift: 12},
  {title: ["Genotoxic", "Root"], hours: hours6, values: genotoxicRoot, shift: 11},
  {title: ["Oxidative", "Aerial"], hours: hours6, values: oxidativeAerial, shift: 10},
  {title: ["Oxidative", "Root"], hours: hours6, values: oxidativeRoot, shift: 12},
  {title: ["UV-B", "Aerial"], hours: hours7, values: uvbAerial, shift: 16},
  {title: ["UV-B", "Root"], hours: hours7, values: uvbRoot, shift: 3},
  {title: ["Wounding", "Aerial"], hours: hours7, values: woundingAerial, shift: 13},
  {title: ["Wounding", "Root"], hours: hours7, values: woundingRoot, shift: 13},
  {title: ["Heat", "Aerial"], hours: hoursHeat, values: heatAerial, shift: 2},
  {title: ["Heat", "Root"], hours: hoursHeat, values: heatRoot, shift: 3}
];

// dendrogram: [height, child, child], a plain number is a row
const tree = [1,
  [.6, [.35,0,1], [.42, [.35,2,3], [.38, [.35,4,5], [.23,6,7]]]],
  [.73, 8,
    [.52,
      [.51, [.31,9,10], [.40,11,12]],
      [.46,
        [.44, [.35,13,[.215,14,15]], [.31,[.27,[.205,16,17],18],19]],
        [.39, [.27,20,21],
          [.35,
            [.34, [.345,22,[.25,23,[.2,24,[.18,25,26]]]], [.185,31,32]],
            [.28,
              [.23, [.205,27,[.18,28,29]], 30],
              [.225,
                [.085, [.04,33,34], [.07,35,36]],
                [.18, [.15,[.13,37,38],[.13,39,40]], [.105,41,[.08,42,43]]]
              ]
            ]
          ]
        ]
      ]
    ]
  ]
];

const familyColors = {GSTF: "#b4e2b6", GSTU: "#d4e9ae", GSTZ: "#fdf68e", GSTT: "#c9b9ac"};
const clusterColors = ["#fdd1a8", "#f8aa6c", "#e07c4c", "#8ab8e3", "#2060a8", "#264a66", "#05203f"];

/*** LAYOUT ***/
const HEAT_LEFT = 104.5, HEAT_RIGHT = 2288, HEAT_TOP = 145, HEAT_BOTTOM = 963;
const CLUSTER_LEFT = 2289.5, CLUSTER_RIGHT = 2329;
const LOCUS_X = 2335.8, NAME_LEFT = 2426, NAME_RIGHT = 2496, NAME_X = 2432.6;

const svg = d3.select("#chart");

// flat list of the cells and the first column of every condition
let nCols = 0;
conditions.forEach(c => { c.start = nCols; nCols += c.hours.length; });

const xCol = d3.scaleBand().domain(d3.range(nCols)).range([HEAT_LEFT, HEAT_RIGHT]);
const yRow = d3.scaleBand().domain(d3.range(locusIds.length)).range([HEAT_TOP, HEAT_BOTTOM]);
const colCenter = i => xCol(i) + xCol.bandwidth() / 2;
const rowCenter = r => yRow(r) + yRow.bandwidth() / 2;

const color = d3.scaleLinear()
  .domain([-3, -2.6, 0, 3])
  .range(["#211f5f", "#2e3182", "#ffffff", "#ef1c24"])
  .clamp(true);

const cells = [];
conditions.forEach(c => c.values.forEach((row, r) => row.forEach((v, i) => cells.push({col: c.start + i, row: r, v}))));

svg.append("g").attr("shape-rendering", "crispEdges")
  .selectAll("rect").data(cells).join("rect")
  .attr("x", d => xCol(d.col))
  .attr("y", d => yRow(d.row))
  .attr("width", xCol.bandwidth() + .5)
  .attr("height", yRow.bandwidth() + .5)
  .attr("fill", d => color(d.v));

// dashed separators between the conditions
svg.append("g").selectAll("line").data(conditions.slice(1)).join("line")
  .attr("x1", d => xCol(d.start)).attr("x2", d => xCol(d.start))
  .attr("y1", 123).attr("y2", HEAT_BOTTOM)
  .attr("stroke", "#555").attr("stroke-width", 1.2).attr("stroke-dasharray", "4 3");

/*** HEADERS ***/
const titles = svg.append("g").selectAll("g").data(conditions).join("g")
  .attr("transform", d => {
    const cx = (xCol(d.start) + xCol(d.start + d.hours.length - 1) + xCol.bandwidth()) / 2 + d.shift;
    return rotate(cx, 54.5, -45);
  });
titles.selectAll("text").data(d => d.title).join("text")
  .attr("text-anchor", "middle")
  .attr("font-size", 23)
  .attr("y", (d, i) => i === 0 ? -15 : 15)
  .attr("dy", ".35em")
  .text(d => d);

svg.append("text").attr("transform", rotate(2402, 49, -45))
  .attr("text-anchor", "middle").attr("dy", ".35em").attr("font-size", 27).text("Locus ID");
svg.append("text").attr("transform", rotate(2452, 61, -45))
  .attr("text-anchor", "middle").attr("dy", ".35em").attr("font-size", 27).text("Name");

svg.append("text").attr("x", 2.4).attr("y", 125).attr("dy", ".35em")
  .attr("font-size", 12).text("Hours of treatment");

conditions.forEach((c, k) => {
  c.hours.forEach((h, i) => {
    const cx = colCenter(c.start + i);
    const isRecovery = h.includes("recovery");
    if (isRecovery) {
      svg.append("text")
        .attr("transform", rotate(cx - 4, k === 16 ? 124 : 128, -45))
        .attr("font-size", 9).text(h);
    } else {
      const dx = h === "0.25" || h === "0.5" ? 3 : 0;
      svg.append("text")
        .attr("transform", rotate(cx + dx, 125, -45))
        .attr("text-anchor", "middle").attr("dy", ".35em")
        .attr("font-size", 11.5).text(h);
    }
  });
});

/*** ROW LABELS ***/
svg.append("g").attr("shape-rendering", "crispEdges")
  .selectAll("rect").data(geneNames).join("rect")
  .attr("x", NAME_LEFT).attr("width", NAME_RIGHT - NAME_LEFT)
  .attr("y", (d, r) => yRow(r) - 2).attr("height", yRow.bandwidth() + .5)
  .attr("fill", d => familyColors[d.slice(0, 4)]);

svg.append("g").selectAll("text").data(locusIds).join("text")
  .attr("x", LOCUS_X).attr("y", (d, r) => rowCenter(r) - 2.5).attr("dy", ".35em")
  .attr("font-size", 15).text(d => d);

svg.append("g").selectAll("text").data(geneNames).join("text")
  .attr("x", NAME_X).attr("y", (d, r) => rowCenter(r) - 2.5).attr("dy", ".35em")
  .attr("font-size", 15).text(d => d);

/*** CLUSTER BAR ***/
let firstRow = 0;
clusterSizes.forEach((n, k) => {
  const y0 = yRow(firstRow), y1 = yRow(firstRow + n - 1) + yRow.bandwidth();
  svg.append("rect")
    .attr("x", CLUSTER_LEFT).attr("y", y0)
    .attr("width", CLUSTER_RIGHT - CLUSTER_LEFT).attr("height", y1 - y0)
    .attr("fill", clusterColors[k]);
  svg.append("text")
    .attr("x", (CLUSTER_LEFT + CLUSTER_RIGHT) / 2).attr("y", (y0 + y1) / 2 - 2).attr("dy", ".35em")
    .attr("text-anchor", "middle").attr("font-size", 17)
    .style("fill", k === 0 ? "#111" : "#fff")
    .text(k + 1);
  firstRow += n;
});

/*** DENDROGRAM ***/
const xTree = d3.scaleLinear().domain([0, 1]).range([104, 28.6]);
const treeLines = d3.path();

function drawNode(node) {
  if (typeof node === "number") return {x: xTree(0), y: rowCenter(node)};
  const a = drawNode(node[1]), b = drawNode(node[2]);
  const x = xTree(node[0]);
  treeLines.moveTo(a.x, a.y);
  treeLines.lineTo(x, a.y);
  treeLines.lineTo(x, b.y);
  treeLines.lineTo(b.x, b.y);
  return {x, y: (a.y + b.y) / 2};
}
drawNode(tree);
svg.append("path").attr("d", treeLines.toString())
  .attr("fill", "none").attr("stroke", "#444").attr("stroke-width", 1.2);

/*** COLOUR BAR ***/
const xLegend = d3.scaleLinear().domain([-3, 3]).range([1017, 1488]);
const grad = svg.append("defs").append("linearGradient").attr("id", "legendFill");
d3.range(-3, 3.01, .25).forEach(v => {
  grad.append("stop").attr("offset", (v + 3) / 6).attr("stop-color", color(v));
});
svg.append("rect")
  .attr("x", xLegend(-3)).attr("y", 1017)
  .attr("width", xLegend(3) - xLegend(-3)).attr("height", 23)
  .attr("fill", "url(#legendFill)");
[-3, 0, 3].forEach(v => {
  svg.append("text")
    .attr("x", xLegend(v) + (v === -3 ? 13 : v === 3 ? -13 : -7)).attr("y", 1060).attr("dy", ".35em")
    .attr("text-anchor", "middle").attr("font-size", 21).text(v);
});
svg.append("text").attr("x", 1259).attr("y", 1093).attr("dy", ".35em")
  .attr("text-anchor", "middle").attr("font-size", 23.5).text("Log2 fold change");

function rotate(x, y, r) {
  return `translate(${x},${y}) rotate(${r})`;
}
</script>
</body>
</html>
